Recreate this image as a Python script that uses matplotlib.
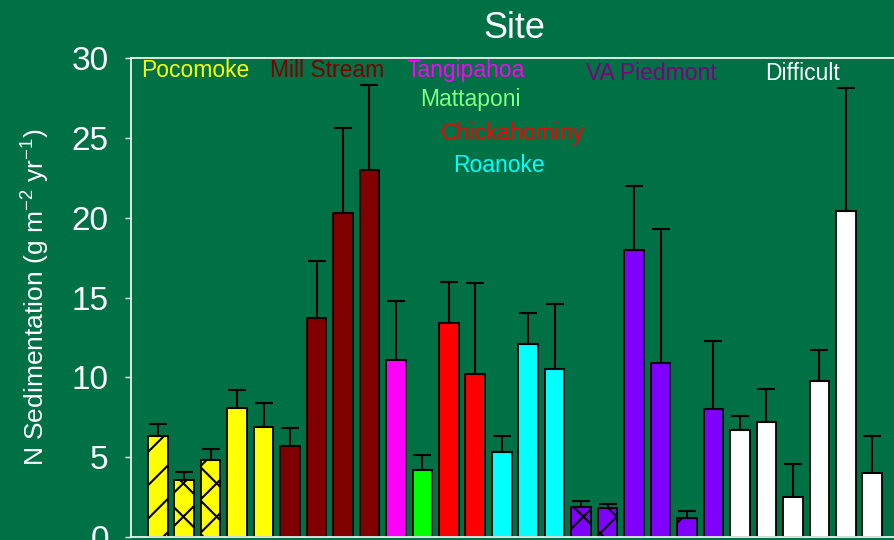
import numpy as np
import matplotlib
matplotlib.use('Agg')
import matplotlib.pyplot as plt

plt.rcParams['font.family'] = ['Liberation Sans', 'DejaVu Sans']
plt.rcParams['hatch.linewidth'] = 1.5
plt.rcParams['mathtext.fontset'] = 'custom'
plt.rcParams['mathtext.rm'] = 'Liberation Sans'

# data
sites = ['Pocomoke', 'Mill Stream', 'Tangipahoa', 'Mattaponi',
         'Chickahominy', 'Roanoke', 'VA Piedmont', 'Difficult']
n_bars = [5, 4, 1, 1, 2, 3, 6, 6]
values = [6.3, 3.6, 4.8, 8.1, 6.9,
          5.7, 13.7, 20.3, 23.0,
          11.1,
          4.2,
          13.4, 10.2,
          5.3, 12.1, 10.5,
          1.9, 1.8, 18.0, 10.9, 1.2, 8.0,
          6.7, 7.2, 2.5, 9.8, 20.4, 4.0]
err_top = [7.1, 4.1, 5.5, 9.2, 8.4,
           6.8, 17.3, 25.6, 28.3,
           14.8,
           5.15,
           16.0, 15.9,
           6.3, 14.0, 14.6,
           2.25, 2.05, 22.0, 19.3, 1.6, 12.3,
           7.55, 9.3, 4.6, 11.7, 28.1, 6.3]
hatches = ['/', 'x', 'x', '', '',
           '', '', '', '',
           '',
           '',
           '', '',
           '', '', '',
           'x', 'x', '', '', '/', '',
           '', '', '', '', '', '']

# styles
bar_cols = ['#ffff00', '#800000', '#ff00ff', '#00ff00',
            '#ff0000', '#00ffff', '#8000ff', '#ffffff']
txt_cols = ['#ffff00', '#800000', '#ff00ff', '#80ff80',
            '#ff0000', '#00ffff', '#800080', '#ffffff']
lab_pos = [(1.41, 29.2), (6.40, 29.2), (11.62, 29.2), (11.82, 27.43),
           (13.41, 25.3), (12.90, 23.25), (18.66, 29.0), (24.35, 29.0)]
bg = '#007045'

colors = []
for c, k in zip(bar_cols, n_bars):
    colors += [c] * k

x = np.arange(len(values))
vals = np.array(values)
errs = np.array(err_top) - vals

fig = plt.figure(figsize=(8.95, 5.4), dpi=100, facecolor=bg)
ax = fig.add_axes([131/895, 3/540, 1 - 131/895, 479/540])
ax.set_facecolor(bg)

bars = ax.bar(x, vals, width=0.74, color=colors, edgecolor='black', linewidth=1.3, zorder=2)
for b, h in zip(bars, hatches):
    if h:
        b.set_hatch(h)
ax.errorbar(x, vals, yerr=[np.zeros_like(errs), errs], fmt='none', ecolor='black',
            elinewidth=1.5, capsize=6.5, capthick=1.5, zorder=3)

for s, c, (px, py) in zip(sites, txt_cols, lab_pos):
    ax.text(px, py, s, color=c, fontsize=16.5, ha='center', va='center', zorder=4)

ax.set_xlim(-1.01, 27.86)
ax.set_ylim(0, 30)
ax.set_yticks(np.arange(0, 31, 5))
ax.set_xticks([])
ax.tick_params(axis='y', colors='white', labelsize=24, length=4, width=1, direction='out', pad=12)
for side in ['left', 'top', 'bottom']:
    ax.spines[side].set_color('white')
    ax.spines[side].set_linewidth(1.2)
ax.spines['right'].set_visible(False)

fig.text(514/895, 1 - 28/540, 'Site', color='white', fontsize=26, ha='center', va='center')
fig.text(35/895, 1 - 297/540, 'N Sedimentation (g m$^{\\mathrm{-2}}$ yr$^{\\mathrm{-1}}$)',
         color='white', fontsize=19, rotation=90, ha='center', va='center')

fig.savefig('out.png', dpi=100, facecolor=bg)
